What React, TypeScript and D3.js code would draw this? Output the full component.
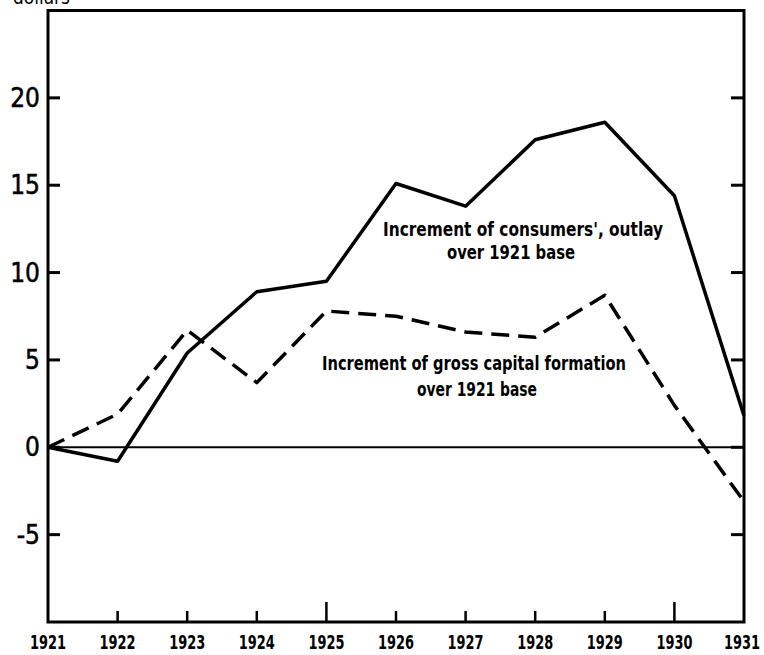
import React, { useRef, useEffect } from 'react';
import * as d3 from 'd3';

const years = [1921, 1922, 1923, 1924, 1925, 1926, 1927, 1928, 1929, 1930, 1931];
const consumersOutlay = [0, -0.8, 5.4, 8.9, 9.5, 15.1, 13.8, 17.6, 18.6, 14.4, 1.8];
const capitalFormation = [0, 1.9, 6.7, 3.7, 7.8, 7.5, 6.6, 6.3, 8.7, 2.4, -3.1];
const yTicks = [-5, 0, 5, 10, 15, 20];

const FONT = "'DejaVu Sans Condensed', 'DejaVu Sans', sans-serif";

const App: React.FC = () => {
  const ref = useRef<SVGSVGElement>(null);

  useEffect(() => {
    if (!ref.current) return;
    const svg = d3.select(ref.current);
    svg.selectAll('*').remove();

    const left = 48, right = 744, top = 10.5, bottom = 622;
    const x = d3.scaleLinear().domain([1921, 1931]).range([left, right]);
    const y = d3.scaleLinear().domain([-10, 25]).range([bottom, top]);

    // unit label, mostly cut off at the top like the scan
    svg.append('text')
      .attr('x', 13).attr('y', 4)
      .attr('font-family', FONT).attr('font-size', 20)
      .attr('textLength', 57).attr('lengthAdjust', 'spacingAndGlyphs')
      .text('dollars');

    // zero line
    svg.append('line')
      .attr('x1', left).attr('x2', right)
      .attr('y1', y(0)).attr('y2', y(0))
      .attr('stroke', '#000').attr('stroke-width', 2);

    // y ticks on both sides
    const yt = svg.append('g');
    yTicks.forEach(v => {
      yt.append('line').attr('x1', left).attr('x2', left + 12)
        .attr('y1', y(v)).attr('y2', y(v)).attr('stroke', '#000').attr('stroke-width', 3);
      yt.append('line').attr('x1', right - 13).attr('x2', right)
        .attr('y1', y(v)).attr('y2', y(v)).attr('stroke', '#000').attr('stroke-width', 3);
      yt.append('text')
        .attr('x', 40).attr('y', y(v) + 9)
        .attr('text-anchor', 'end')
        .attr('font-family', FONT).attr('font-size', 26)
        .attr('stroke', '#000').attr('stroke-width', 0.5)
        .text(v < 0 ? '-' + Math.abs(v) : String(v));
    });

    // x ticks and labels
    years.forEach(yr => {
      if (yr > 1921 && yr < 1931) {
        const len = yr % 5 === 0 ? 20 : 11;
        svg.append('line').attr('x1', x(yr)).attr('x2', x(yr))
          .attr('y1', bottom).attr('y2', bottom - len)
          .attr('stroke', '#000').attr('stroke-width', 2.5);
      }
      svg.append('text')
        .attr('x', Math.min(x(yr), 742)).attr('y', 649)
        .attr('text-anchor', 'middle')
        .attr('font-family', FONT).attr('font-size', 20).attr('font-weight', 'bold')
        .attr('textLength', 36).attr('lengthAdjust', 'spacingAndGlyphs')
        .text(String(yr));
    });

    const line = d3.line<number>()
      .x((_, i) => x(years[i]))
      .y(d => y(d));

    svg.append('path')
      .datum(consumersOutlay)
      .attr('d', line)
      .attr('fill', 'none').attr('stroke', '#000')
      .attr('stroke-width', 3.5).attr('stroke-linejoin', 'round');

    svg.append('path')
      .datum(capitalFormation)
      .attr('d', line)
      .attr('fill', 'none').attr('stroke', '#000')
      .attr('stroke-width', 3.5).attr('stroke-dasharray', '18 9')
      .attr('stroke-linejoin', 'round');

    // frame
    svg.append('rect')
      .attr('x', left).attr('y', top)
      .attr('width', right - left).attr('height', bottom - top)
      .attr('fill', 'none').attr('stroke', '#000').attr('stroke-width', 3);

    const label = (tx: number, ty: number, s: string, len: number) =>
      svg.append('text')
        .attr('x', tx).attr('y', ty).attr('text-anchor', 'middle')
        .attr('font-family', FONT).attr('font-size', 20).attr('font-weight', 'bold')
        .attr('textLength', len).attr('lengthAdjust', 'spacingAndGlyphs')
        .text(s);

    label(523, 236, "Increment of consumers', outlay", 280);
    label(511, 259, 'over 1921 base', 128);
    label(474, 370, 'Increment of gross capital formation', 304);
    label(477, 396, 'over 1921 base', 120);
  }, []);

  return (
    <svg ref={ref} width={764} height={655}
      style={{ position: 'absolute', left: 0, top: 0, background: '#fff' }} />
  );
};

export default App;
